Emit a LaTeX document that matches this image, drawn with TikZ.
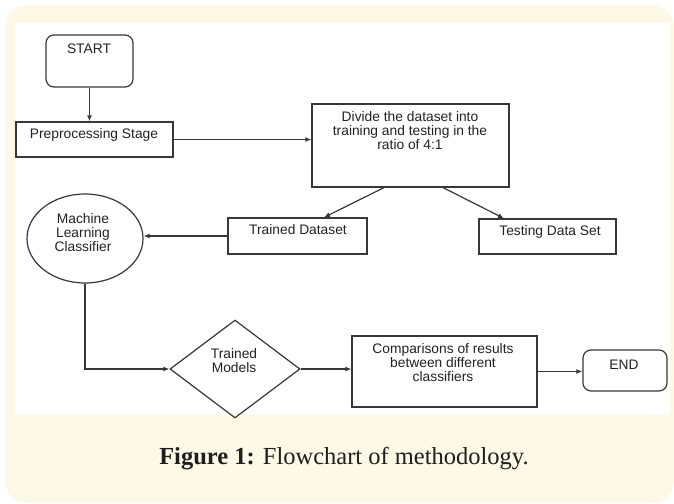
\documentclass[tikz,border=0pt]{standalone}
\usepackage{fontspec}
\setmainfont{Liberation Sans}
\newfontfamily\capfont{Liberation Serif}
\usetikzlibrary{arrows.meta,shapes.geometric}
\definecolor{cream}{HTML}{FEF9E6}
\definecolor{linegray}{HTML}{383838}
\definecolor{textgray}{HTML}{222222}
\definecolor{captext}{HTML}{1E1E1E}
\begin{document}
\begin{tikzpicture}[x=1pt,y=-1pt,
  line/.style={draw=linegray, line width=1.2pt},
  arr/.style={line, -{Latex[length=6pt,width=5pt]}},
  boxshape/.style={line, rectangle, inner sep=0pt},
  termshape/.style={boxshape, rounded corners=8pt},
  txt/.style={text=textgray, font=\fontsize{13.8}{14}\selectfont, inner sep=0pt, align=center},
]
\useasboundingbox (0,0) rectangle (674,503);
\fill[white] (0,0) rectangle (674,503);
\fill[cream, rounded corners=22pt] (5,5) rectangle (674,503);
\fill[white] (15,23) rectangle (670,415);

% shapes
\node[termshape, minimum width=87pt, minimum height=52pt] (start) at (89.5,61) {};
\node[boxshape, minimum width=157pt, minimum height=35pt] (pre) at (94.5,139.5) {};
\node[boxshape, minimum width=197pt, minimum height=83pt] (div) at (410.5,145.5) {};
\node[boxshape, minimum width=139pt, minimum height=36pt] (trd) at (297.5,236) {};
\node[boxshape, minimum width=137pt, minimum height=35pt] (tst) at (547.5,236.5) {};
\node[line, ellipse, inner sep=0pt, minimum width=116pt, minimum height=89pt] (mlc) at (85,238.5) {};
\node[line, diamond, inner sep=0pt, minimum width=130pt, minimum height=98pt] (tm) at (235,369) {};
\node[boxshape, minimum width=185pt, minimum height=71pt] (cmp) at (444.5,371.5) {};
\node[termshape, minimum width=84pt, minimum height=41pt] (end) at (625,370.5) {};

% texts
\node[txt, anchor=base] (startT) at (89,53) {START};
\node[txt, anchor=base] (preT) at (94,138) {Preprocessing Stage};
\node[txt, anchor=north] (divT) at (410,111) {Divide the dataset into\\training and testing in the\\ratio of 4:1};
\node[txt, anchor=base] (trdT) at (298,234) {Trained Dataset};
\node[txt, anchor=base] (tstT) at (550,235) {Testing Data Set};
\node[txt, anchor=north] (mlcT) at (83,213) {Machine\\Learning\\Classifier};
\node[txt, anchor=north] (tmT) at (234,348) {Trained\\Models};
\node[txt, anchor=north] (cmpT) at (443,343) {Comparisons of results\\between different\\classifiers};
\node[txt, anchor=base] (endT) at (624,369) {END};

% connectors
\draw[arr] (start.south) -- (start.south |- pre.north);
\draw[arr] (pre.east) -- (pre.east -| div.west);
\draw[arr] ([xshift=-26.5pt]div.south) -- ([xshift=26.5pt]trd.north);
\draw[arr] ([xshift=32.5pt]div.south) -- ([xshift=-43.5pt]tst.north);
\draw[arr] (trd.west) -- (trd.west -| mlc.east);
\draw[arr] (mlc.south) |- (tm.west);
\draw[arr] (tm.east) -- (tm.east -| cmp.west);
\draw[arr] (cmp.east) -- (cmp.east -| end.west);

% caption
\node[anchor=base, inner sep=0pt, text=captext, font=\capfont\fontsize{24.5}{28}\selectfont] (cap) at (344,464.5) {\textbf{Figure 1:} Flowchart of methodology.};
\end{tikzpicture}
\end{document}
